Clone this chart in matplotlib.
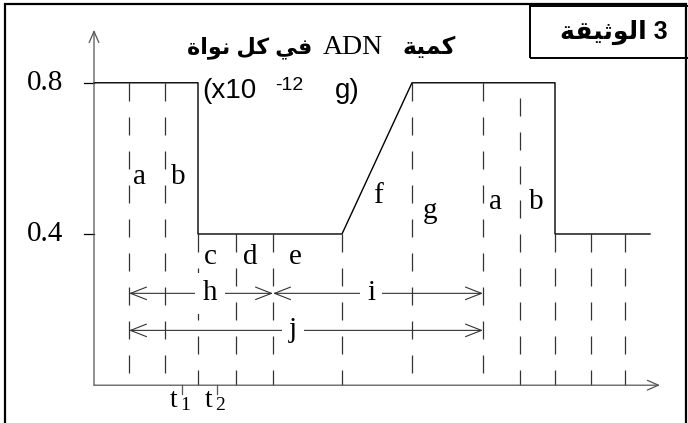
import matplotlib
matplotlib.use('Agg')
import matplotlib.pyplot as plt
from matplotlib.patches import Rectangle

W, H = 688, 423

# phase boundaries on the time axis (arbitrary units) and where each dashed line starts
bounds = [3.5, 7.1, 10.4, 14.2, 17.9, 24.8, 31.8, 38.9, 42.6, 46.1, 49.7, 53.1]
bound_tops = [0.8, 0.8, 0.4, 0.4, 0.4, 0.4, 0.8, 0.8, 0.76, 0.4, 0.4, 0.4]

# DNA quantity per nucleus (x10^-12 g)
curve_t = [0, 10.4, 10.4, 24.8, 31.8, 46.1, 46.1, 55.6]
curve_q = [0.8, 0.8, 0.4, 0.4, 0.8, 0.8, 0.4, 0.4]

y_ticks = [0.4, 0.8]
y_labels = ['0.4', '0.8']

phases = ['a', 'b', 'c', 'd', 'e', 'f', 'g', 'a', 'b']
phase_x = [4.5, 8.4, 11.6, 15.6, 20.1, 28.4, 33.6, 40.1, 44.2]
phase_y = [0.55, 0.55, 0.34, 0.34, 0.34, 0.50, 0.46, 0.485, 0.485]

# double arrows: label, start, end
spans = [('h', 3.5, 17.9), ('i', 17.9, 38.9), ('j', 3.5, 38.9)]
span_y = [0.243, 0.243, 0.145]
span_label_x = [11.6, 27.7, 19.9]

t_marks = [8.77, 12.27]
t_names = ['1', '2']

title_ar = ['كمية', 'في كل نواة']
doc_label = 'الوثيقة'

# --- minimal arabic shaping (matplotlib has no text shaping) ---
DUAL = set('بتثجحخسشصضطظعغفقكلمنهيئ')
FORMS = {  # isolated, final, initial, medial
    'ا': ('\uFE8D', '\uFE8E', None, None),
    'ل': ('\uFEDD', '\uFEDE', '\uFEDF', '\uFEE0'),
    'و': ('\uFEED', '\uFEEE', None, None),
    'ث': ('\uFE99', '\uFE9A', '\uFE9B', '\uFE9C'),
    'ي': ('\uFEF1', '\uFEF2', '\uFEF3', '\uFEF4'),
    'ق': ('\uFED5', '\uFED6', '\uFED7', '\uFED8'),
    'ة': ('\uFE93', '\uFE94', None, None),
    'ك': ('\uFED9', '\uFEDA', '\uFEDB', '\uFEDC'),
    'م': ('\uFEE1', '\uFEE2', '\uFEE3', '\uFEE4'),
    'ف': ('\uFED1', '\uFED2', '\uFED3', '\uFED4'),
    'ن': ('\uFEE5', '\uFEE6', '\uFEE7', '\uFEE8'),
}


def shape_word(word):
    out = []
    for i, ch in enumerate(word):
        if ch not in FORMS:
            out.append(ch)
            continue
        prev = word[i - 1] if i > 0 else ''
        nxt = word[i + 1] if i + 1 < len(word) else ''
        jp = prev in DUAL
        jn = ch in DUAL and nxt in FORMS
        f = FORMS[ch]
        if jp and jn:
            g = f[3]
        elif jp:
            g = f[1]
        elif jn:
            g = f[2]
        else:
            g = f[0]
        out.append(g)
    return ''.join(reversed(out))


def rtl(text):
    return ' '.join(shape_word(w) for w in reversed(text.split(' ')))


AR = ['Liberation Sans', 'DejaVu Sans']
SERIF = 'Liberation Serif'

fig = plt.figure(figsize=(W / 100, H / 100), dpi=100)
ax = fig.add_axes([0, 0, 1, 1])
ax.set_xlim(-9.4, 59.4)
ax.set_ylim(-0.1, 1.019)
ax.axis('off')

axis_col = '#555555'
arr = dict(arrowstyle='->,head_length=0.8,head_width=0.35', lw=0.9,
           color=axis_col, shrinkA=0, shrinkB=0)
ax.annotate('', xy=(0, 0.94), xytext=(0, 0), arrowprops=arr)
ax.annotate('', xy=(56.6, 0), xytext=(0, 0), arrowprops=arr)

for v, lab in zip(y_ticks, y_labels):
    ax.plot([-1.0, 0], [v, v], color='black', lw=0.9)
    ax.text(-3.1, v, lab, ha='right', va='center', fontsize=21, family=SERIF)

# dashed phase boundaries
for x, top in zip(bounds, bound_tops):
    ax.plot([x, x], [top, 0], color='#333333', lw=0.9, ls=(0, (14.4, 12.8)))

ax.plot(curve_t, curve_q, color='black', lw=1.0)

for lab, x, y in zip(phases, phase_x, phase_y):
    ax.text(x, y, lab, ha='center', va='center', fontsize=21, family=SERIF)

for (lab, x0, x1), y, lx in zip(spans, span_y, span_label_x):
    ax.annotate('', xy=(x1, y), xytext=(x0, y),
                arrowprops=dict(arrowstyle='<->,head_length=1.15,head_width=0.45',
                                lw=0.8, color='#333333', shrinkA=0, shrinkB=0))
    ax.text(lx, y, lab, ha='center', va='center', fontsize=21, family=SERIF,
            bbox=dict(boxstyle='square,pad=0.25', fc='white', ec='none'))

for x, n in zip(t_marks, t_names):
    ax.plot([x, x], [0, -0.022], color=axis_col, lw=0.9)
    ax.text(x - 0.85, -0.058, 't', ha='center', va='baseline', fontsize=20, family=SERIF)
    ax.text(x + 0.3, -0.066, n, ha='center', va='baseline', fontsize=14, family=SERIF)


def fx(px):
    return px / W


def fy(py):
    return 1 - py / H


# title
fig.text(fx(312), fy(48), rtl(title_ar[1]), ha='right', va='center', fontsize=16,
         family=AR, weight='bold')
fig.text(fx(323), fy(47), 'ADN', ha='left', va='center', fontsize=20, family=SERIF)
fig.text(fx(403), fy(48), rtl(title_ar[0]), ha='left', va='center', fontsize=17,
         family=AR, weight='bold')
fig.text(fx(202), fy(91), '(x10', ha='left', va='center', fontsize=20, family='Liberation Sans')
fig.text(fx(275), fy(86), '-12', ha='left', va='center', fontsize=14, family='Liberation Sans')
fig.text(fx(335), fy(91), 'g)', ha='left', va='center', fontsize=20, family='Liberation Sans')

# frame and document box
fig.patches.append(Rectangle((fx(5), -0.02), fx(681), fy(4) + 0.02, transform=fig.transFigure,
                             fill=False, ec='black', lw=1.6))
fig.patches.append(Rectangle((fx(530), fy(58)), fx(160), 52 / H, transform=fig.transFigure,
                             fill=False, ec='black', lw=1.4))
fig.text(fx(614), fy(32), shape_word(doc_label) + ' 3', ha='center', va='center',
         fontsize=18, family=AR, weight='bold')

fig.savefig('out.png', dpi=100)
